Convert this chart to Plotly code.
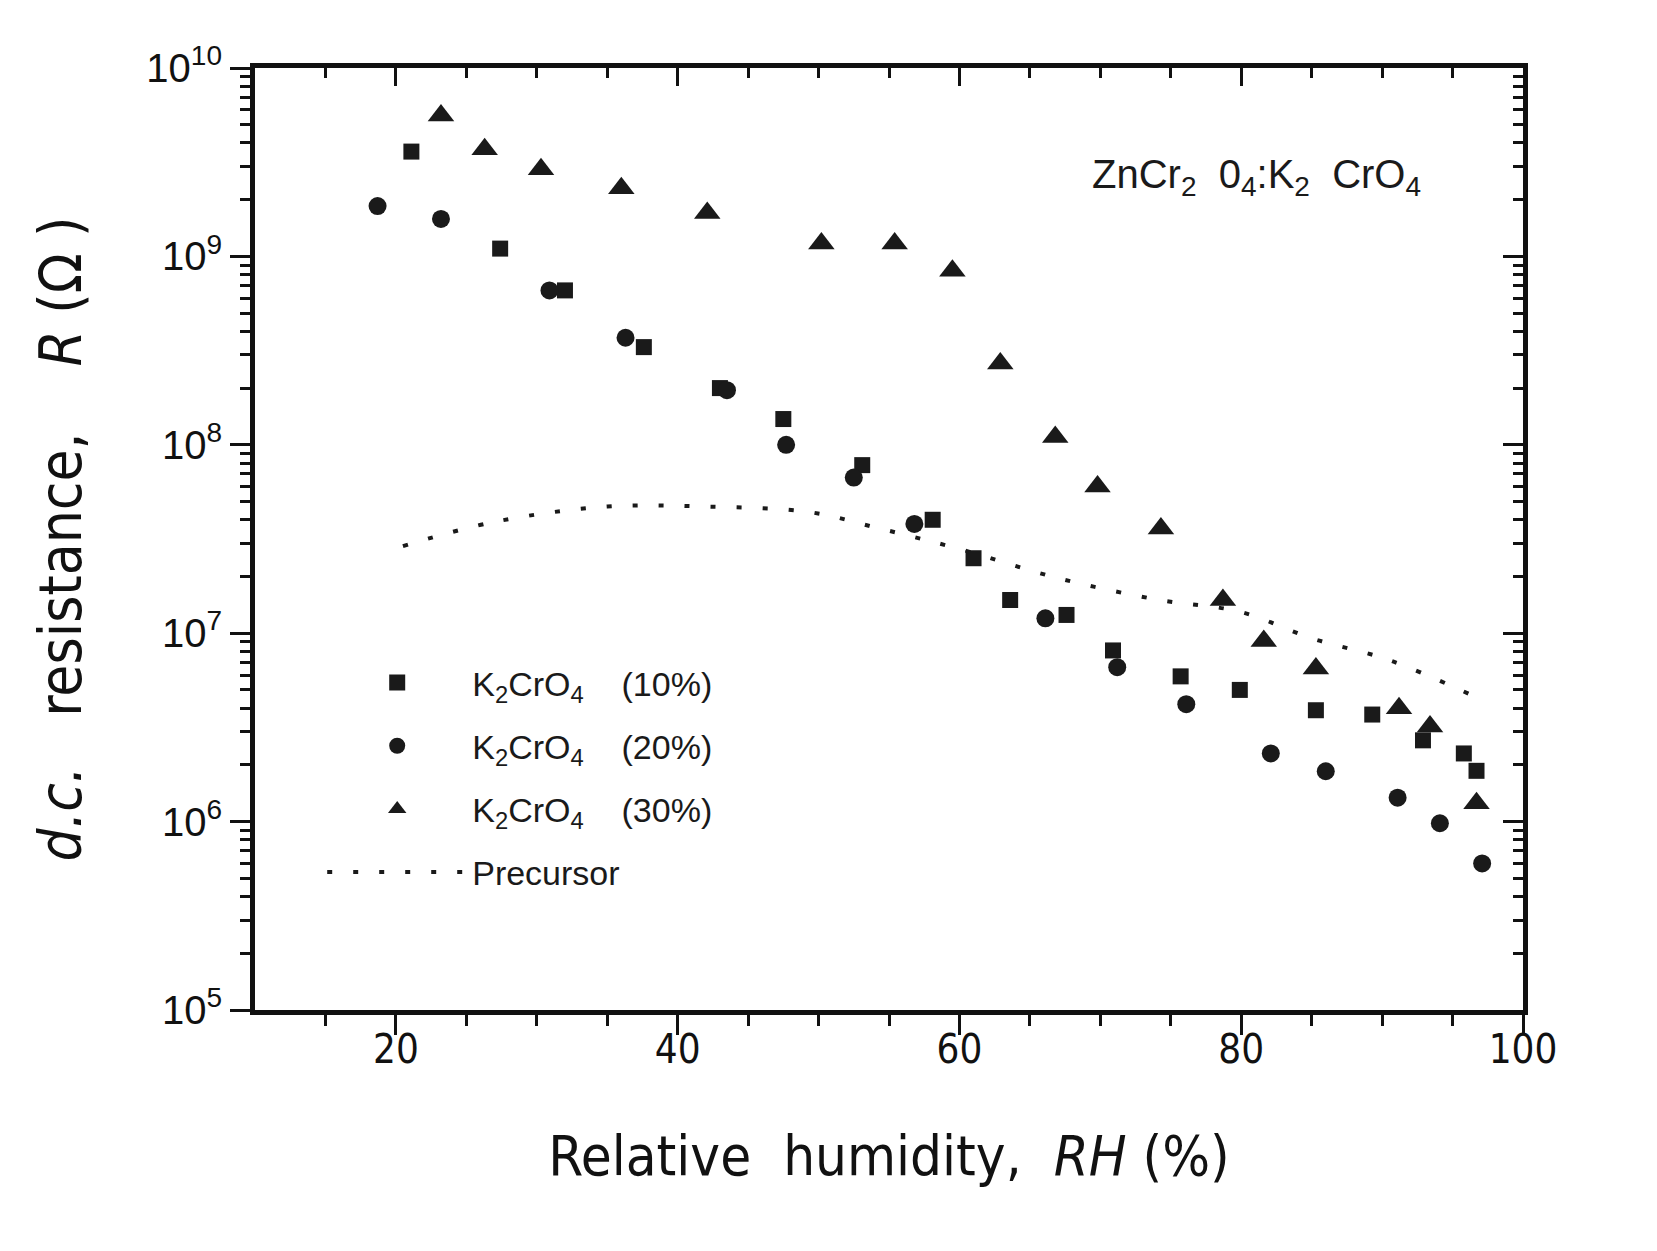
import plotly.graph_objects as go

# ---- data ----
rh_10 = [21.1, 27.4, 32.0, 37.6, 43.0, 47.5, 53.1, 58.1, 61.0, 63.6, 67.6, 70.9, 75.7, 79.9, 85.3, 89.3, 92.9, 95.8, 96.7]
r_10 = [3.6e9, 1.1e9, 6.6e8, 3.3e8, 2.0e8, 1.37e8, 7.8e7, 4.0e7, 2.5e7, 1.5e7, 1.25e7, 8.1e6, 5.9e6, 5.0e6, 3.9e6, 3.7e6, 2.7e6, 2.3e6, 1.86e6]

rh_20 = [18.7, 23.2, 30.9, 36.3, 43.5, 47.7, 52.5, 56.8, 66.1, 71.2, 76.1, 82.1, 86.0, 91.1, 94.1, 97.1]
r_20 = [1.85e9, 1.58e9, 6.6e8, 3.7e8, 1.95e8, 1.0e8, 6.7e7, 3.8e7, 1.2e7, 6.6e6, 4.2e6, 2.3e6, 1.85e6, 1.34e6, 9.8e5, 6.0e5]

rh_30 = [23.2, 26.3, 30.3, 36.0, 42.1, 50.2, 55.4, 59.5, 62.9, 66.8, 69.8, 74.3, 78.7, 81.6, 85.3, 91.2, 93.4, 96.7]
r_30 = [5.6e9, 3.7e9, 2.9e9, 2.3e9, 1.7e9, 1.17e9, 1.17e9, 8.4e8, 2.7e8, 1.1e8, 6.0e7, 3.6e7, 1.5e7, 9.1e6, 6.5e6, 4.0e6, 3.2e6, 1.25e6]

rh_pre = [20.5, 27.0, 35.0, 42.0, 49.3, 54.3, 60.0, 67.0, 74.2, 79.9, 85.0, 90.5, 96.6]
r_pre = [2.9e7, 3.9e7, 4.7e7, 4.7e7, 4.4e7, 3.6e7, 2.8e7, 1.96e7, 1.5e7, 1.3e7, 9.4e6, 7.2e6, 4.6e6]

x_ticks = [20, 40, 60, 80, 100]
x_minor = [15, 25, 30, 35, 45, 50, 55, 65, 70, 75, 85, 90, 95]
y_ticks = [1e5, 1e6, 1e7, 1e8, 1e9, 1e10]
y_ticklabels = ["10<sup>5</sup>", "10<sup>6</sup>", "10<sup>7</sup>", "10<sup>8</sup>", "10<sup>9</sup>", "10<sup>10</sup>"]
y_minor = [m * 10 ** e for e in range(5, 10) for m in range(2, 10)]

FONT = "Liberation Sans"
NARROW = "Liberation Sans Narrow, DejaVu Sans Condensed, Liberation Sans"

fig = go.Figure()
fig.add_trace(go.Scatter(x=rh_10, y=r_10, mode="markers",
                         name="K<sub>2</sub>CrO<sub>4</sub>    (10%)", legendgroup="a",
                         marker=dict(symbol="square", size=16, color="#1a1a1a")))
fig.add_trace(go.Scatter(x=rh_20, y=r_20, mode="markers",
                         name="K<sub>2</sub>CrO<sub>4</sub>    (20%)", legendgroup="b",
                         marker=dict(symbol="circle", size=18, color="#1a1a1a")))
fig.add_trace(go.Scatter(x=rh_30, y=r_30, mode="markers",
                         name="K<sub>2</sub>CrO<sub>4</sub>    (30%)", legendgroup="c",
                         marker=dict(symbol="triangle-up", size=23, color="#1a1a1a")))
fig.add_trace(go.Scatter(x=rh_pre, y=r_pre, mode="lines", name="Precursor", legendgroup="d",
                         line=dict(color="#1a1a1a", width=4, dash="5px,21px", shape="spline")))
# invisible trace to activate mirrored top/right axes
fig.add_trace(go.Scatter(x=rh_pre, y=r_pre, xaxis="x2", yaxis="y2", mode="lines",
                         line=dict(width=0), showlegend=False, hoverinfo="skip", opacity=0))

axis_line = dict(showline=True, linecolor="#111", linewidth=5, showgrid=False, zeroline=False)

fig.update_layout(
    width=1657, height=1251,
    paper_bgcolor="white", plot_bgcolor="white",
    margin=dict(l=247, r=142, t=60, b=249),
    showlegend=True,
    legend=dict(x=0.053, y=0.378, xanchor="left", yanchor="top",
                bgcolor="rgba(0,0,0,0)", borderwidth=0, tracegroupgap=16,
                font=dict(family=FONT, size=34, color="#1a1a1a"), itemwidth=140),
    xaxis=dict(range=[10, 100], tickmode="array", tickvals=x_ticks, ticktext=[str(v) for v in x_ticks],
               ticks="outside", ticklen=20, tickwidth=3, tickcolor="#111",
               minor=dict(tickmode="array", tickvals=x_minor, ticks="outside", ticklen=11, tickwidth=3, tickcolor="#111"),
               tickfont=dict(family=NARROW, size=40, color="#111"), ticklabelstandoff=-20,
               title=dict(text="Relative  humidity,  <i>RH</i> (%)", standoff=66,
                          font=dict(family=NARROW, size=56, color="#111")),
               **axis_line),
    xaxis2=dict(range=[10, 100], overlaying="x", side="top", tickmode="array", tickvals=x_ticks,
                ticktext=["" for _ in x_ticks], ticks="inside", ticklen=18, tickwidth=3, tickcolor="#111",
                minor=dict(tickmode="array", tickvals=x_minor, ticks="inside", ticklen=10, tickwidth=3, tickcolor="#111"),
                **axis_line),
    yaxis=dict(type="log", range=[5, 10], tickmode="array", tickvals=y_ticks, ticktext=y_ticklabels,
               ticks="outside", ticklen=20, tickwidth=3, tickcolor="#111",
               minor=dict(tickmode="array", tickvals=y_minor, ticks="outside", ticklen=10, tickwidth=3, tickcolor="#111"),
               tickfont=dict(family=FONT, size=40, color="#111"),
               title=dict(text="<i>d.c.</i>   resistance,    <i>R</i> (Ω )", standoff=48,
                          font=dict(family=NARROW, size=58, color="#111")),
               **axis_line),
    yaxis2=dict(type="log", range=[5, 10], overlaying="y", side="right", tickmode="array", tickvals=y_ticks,
                ticktext=["" for _ in y_ticks], ticks="inside", ticklen=20, tickwidth=3, tickcolor="#111",
                minor=dict(tickmode="array", tickvals=y_minor, ticks="inside", ticklen=10, tickwidth=3, tickcolor="#111"),
                **axis_line),
)

fig.add_annotation(x=0.921, y=0.884, xref="paper", yref="paper", xanchor="right", yanchor="middle",
                   text="ZnCr<sub>2</sub>  0<sub>4</sub>:K<sub>2</sub>  CrO<sub>4</sub>", showarrow=False,
                   font=dict(family=FONT, size=40, color="#1a1a1a"))

fig.write_html("out.html")
